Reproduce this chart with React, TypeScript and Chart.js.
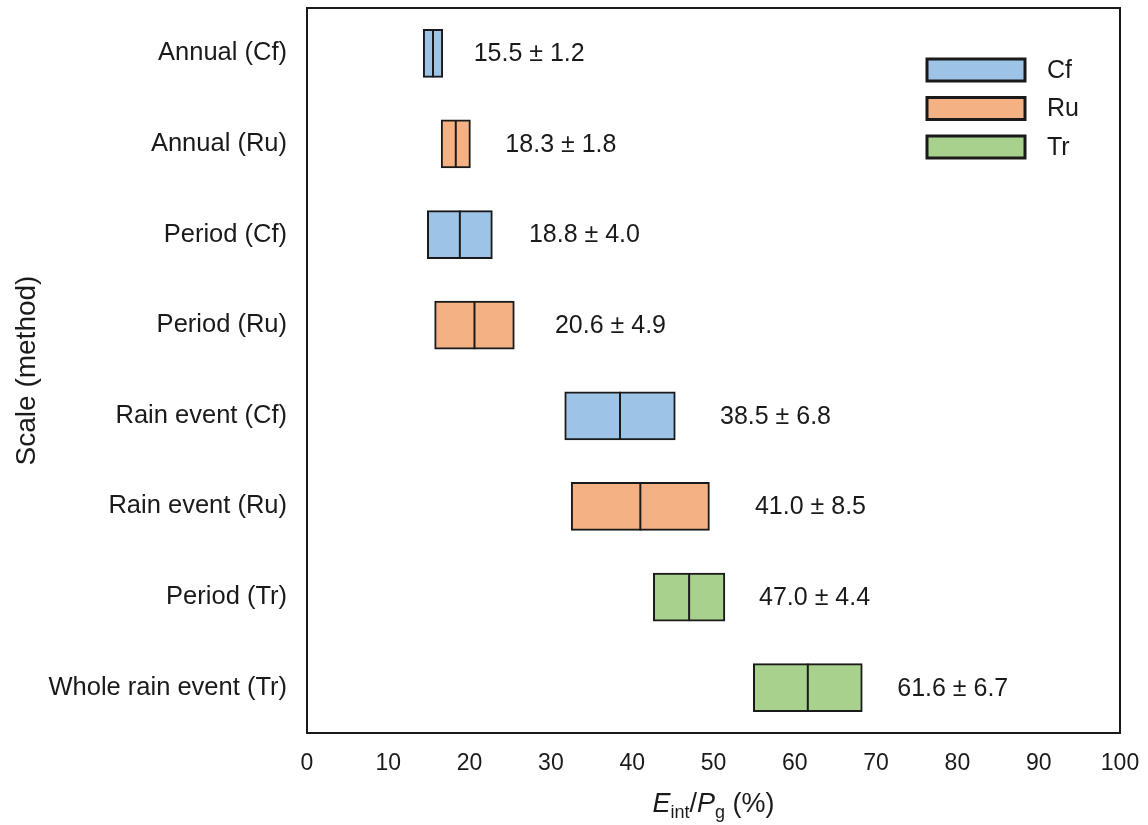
import React, { useEffect, useRef } from "react";
import { Chart, registerables } from "chart.js";

Chart.register(...registerables);

const categories = [
  "Annual (Cf)",
  "Annual (Ru)",
  "Period (Cf)",
  "Period (Ru)",
  "Rain event (Cf)",
  "Rain event (Ru)",
  "Period (Tr)",
  "Whole rain event (Tr)",
];
const means = [15.5, 18.3, 18.8, 20.6, 38.5, 41.0, 47.0, 61.6];
const sds = [1.2, 1.8, 4.0, 4.9, 6.8, 8.5, 4.4, 6.7];
const groups = ["Cf", "Ru", "Cf", "Ru", "Cf", "Ru", "Tr", "Tr"];
const labelX = [20.5, 24.4, 27.3, 30.5, 50.8, 55.1, 55.6, 72.6];
const seriesNames = ["Cf", "Ru", "Tr"];
const seriesColors = ["#9DC3E6", "#F4B183", "#A9D18E"];
const xTicks = [0, 10, 20, 30, 40, 50, 60, 70, 80, 90, 100];

const FONT = 'Arial, "Liberation Sans", sans-serif';
const INK = "#1a1a1a";

const overlayPlugin = {
  id: "overlay",
  afterDatasetsDraw(chart: any) {
    const ctx = chart.ctx;
    const xs = chart.scales.x;
    const area = chart.chartArea;
    ctx.save();
    // median lines
    chart.data.datasets.forEach((ds: any, d: number) => {
      const meta = chart.getDatasetMeta(d);
      meta.data.forEach((bar: any, i: number) => {
        if (ds.data[i] == null) return;
        const x = xs.getPixelForValue(means[i]);
        const h = bar.height;
        ctx.beginPath();
        ctx.strokeStyle = INK;
        ctx.lineWidth = 2;
        ctx.moveTo(x, bar.y - h / 2);
        ctx.lineTo(x, bar.y + h / 2);
        ctx.stroke();
      });
    });
    // value labels
    ctx.fillStyle = INK;
    ctx.font = `25px ${FONT}`;
    ctx.textAlign = "left";
    ctx.textBaseline = "middle";
    categories.forEach((c, i) => {
      const x = xs.getPixelForValue(labelX[i]);
      const y = chart.scales.y.getPixelForValue(i);
      ctx.fillText(`${means[i].toFixed(1)} ± ${sds[i].toFixed(1)}`, x, y + 1);
    });
    // plot frame
    ctx.strokeStyle = INK;
    ctx.lineWidth = 2;
    ctx.strokeRect(area.left, area.top, area.right - area.left, area.bottom - area.top);
    // legend
    const lx = area.right - 193;
    const ly = area.top + 51;
    seriesNames.forEach((name, k) => {
      const y = ly + k * 38.5;
      ctx.fillStyle = seriesColors[k];
      ctx.fillRect(lx, y, 98, 22);
      ctx.strokeStyle = INK;
      ctx.lineWidth = 3;
      ctx.strokeRect(lx, y, 98, 22);
      ctx.fillStyle = INK;
      ctx.font = `25px ${FONT}`;
      ctx.textAlign = "left";
      ctx.textBaseline = "middle";
      ctx.fillText(name, lx + 120, y + 12);
    });
    // x-axis title: E_int / P_g (%)
    const big = 27;
    const small = 18;
    const parts = [
      { t: "E", f: `italic ${big}px ${FONT}`, dy: 0 },
      { t: "int", f: `${small}px ${FONT}`, dy: 6 },
      { t: "/", f: `${big}px ${FONT}`, dy: 0 },
      { t: "P", f: `italic ${big}px ${FONT}`, dy: 0 },
      { t: "g", f: `${small}px ${FONT}`, dy: 6 },
      { t: " (%)", f: `${big}px ${FONT}`, dy: 0 },
    ];
    let total = 0;
    parts.forEach((p) => {
      ctx.font = p.f;
      total += ctx.measureText(p.t).width;
    });
    let cx = (area.left + area.right) / 2 - total / 2;
    const baseY = 812;
    ctx.textBaseline = "alphabetic";
    ctx.textAlign = "left";
    ctx.fillStyle = INK;
    parts.forEach((p) => {
      ctx.font = p.f;
      ctx.fillText(p.t, cx, baseY + p.dy);
      cx += ctx.measureText(p.t).width;
    });
    ctx.restore();
  },
};

export default function App() {
  const ref = useRef<HTMLCanvasElement | null>(null);
  useEffect(() => {
    if (!ref.current) return;
    const datasets = seriesNames.map((name, k) => ({
      label: name,
      data: categories.map((c, i) =>
        groups[i] === name ? [means[i] - sds[i], means[i] + sds[i]] : null
      ),
      backgroundColor: seriesColors[k],
      borderColor: INK,
      borderWidth: 2,
      borderSkipped: false,
      barThickness: 48,
      grouped: false,
    }));
    const chart = new Chart(ref.current, {
      type: "bar",
      data: { labels: categories, datasets: datasets as any },
      options: {
        animation: false,
        responsive: false,
        indexAxis: "y",
        layout: { padding: { top: 8, right: 28, left: 0, bottom: 0 } },
        plugins: {
          legend: { display: false },
          tooltip: { enabled: false },
        },
        scales: {
          x: {
            type: "linear",
            min: 0,
            max: 100,
            afterBuildTicks: (scale: any) => {
              scale.ticks = xTicks.map((v) => ({ value: v }));
            },
            afterFit: (scale: any) => {
              scale.height = 92;
              scale.paddingLeft = 0;
              scale.paddingRight = 0;
            },
            grid: { display: false, drawTicks: false },
            border: { display: false },
            ticks: {
              padding: 17,
              color: INK,
              font: { family: FONT, size: 23 },
              maxRotation: 0,
            },
          },
          y: {
            type: "category",
            afterFit: (scale: any) => {
              scale.width = 307;
              scale.paddingTop = 0;
              scale.paddingBottom = 0;
            },
            grid: { display: false, drawTicks: false },
            border: { display: false },
            ticks: {
              padding: 20,
              color: INK,
              font: { family: FONT, size: 25.5 },
            },
            title: {
              display: true,
              text: "Scale (method)",
              color: INK,
              font: { family: FONT, size: 28 },
              padding: { top: 10, bottom: 0 },
            },
          },
        },
      },
      plugins: [overlayPlugin],
    });
    return () => chart.destroy();
  }, []);
  return (
    <div style={{ position: "absolute", left: 0, top: 0, width: 1148, height: 825, background: "#fff" }}>
      <canvas ref={ref} width={1148} height={825} />
    </div>
  );
}
